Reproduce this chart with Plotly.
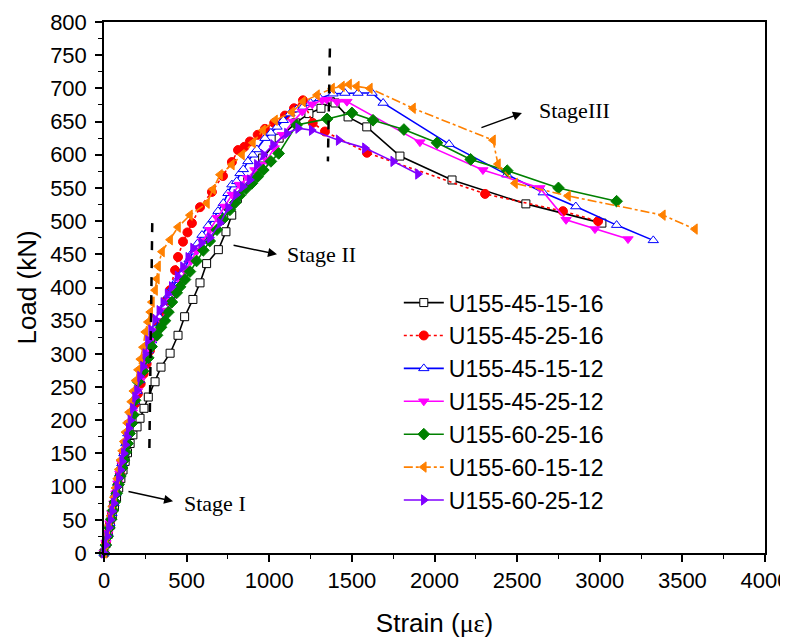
import plotly.graph_objects as go

names = ["U155-45-15-16", "U155-45-25-16", "U155-45-15-12", "U155-45-25-12",
         "U155-60-25-16", "U155-60-15-12", "U155-60-25-12"]

black_x = [0, 12, 25, 38, 50, 63, 76, 89, 102, 115, 128, 142, 158, 175, 200, 218, 242, 268, 309, 345, 400, 448, 488, 538, 581, 621, 692, 738, 773, 807, 870, 960, 1060, 1160, 1240, 1313, 1370, 1398, 1477, 1590, 1791, 2106, 2553, 3013]
black_y = [0, 14, 28, 42, 56, 70, 84, 98, 112, 125, 138, 151, 165, 178, 190, 203, 218, 235, 258, 280, 301, 328, 356, 382, 407, 436, 457, 484, 509, 534, 560, 595, 625, 648, 662, 670, 680, 678, 657, 642, 598, 562, 526, 497]

red_x = [0, 12, 24, 36, 48, 60, 72, 84, 96, 108, 120, 132, 145, 158, 172, 188, 205, 222, 240, 258, 278, 300, 325, 350, 375, 399, 430, 448, 478, 505, 532, 581, 653, 720, 774, 811, 850, 883, 930, 974, 1030, 1095, 1150, 1204, 1263, 1337, 1591, 2306, 2777, 2990]
red_y = [0, 15, 30, 45, 60, 75, 90, 105, 120, 135, 150, 165, 180, 195, 210, 225, 240, 255, 270, 285, 305, 325, 345, 362, 380, 396, 426, 446, 469, 483, 497, 521, 544, 568, 589, 607, 612, 620, 630, 639, 648, 659, 670, 682, 648, 635, 603, 541, 515, 500]

blue_x = [0, 12, 24, 36, 48, 60, 72, 84, 96, 108, 120, 132, 144, 157, 170, 185, 200, 216, 232, 250, 268, 288, 310, 335, 362, 390, 415, 441, 465, 490, 515, 539, 565, 593, 630, 661, 690, 722, 750, 774, 803, 823, 843, 871, 900, 925, 974, 1010, 1047, 1085, 1125, 1165, 1204, 1250, 1307, 1386, 1458, 1537, 1622, 1689, 2088, 2438, 2658, 2855, 3102, 3324]
blue_y = [0, 15, 30, 45, 60, 75, 90, 105, 120, 135, 150, 165, 180, 197, 212, 228, 244, 260, 275, 290, 305, 320, 337, 355, 372, 388, 400, 411, 420, 430, 442, 454, 466, 479, 493, 503, 515, 527, 542, 555, 560, 572, 578, 590, 600, 608, 625, 633, 642, 652, 662, 668, 672, 678, 685, 692, 693, 693, 693, 678, 616, 570, 543, 522, 494, 471]

mag_x = [0, 12, 24, 36, 48, 60, 72, 84, 96, 108, 120, 132, 145, 158, 172, 187, 203, 220, 238, 256, 276, 298, 322, 348, 375, 402, 430, 460, 492, 525, 560, 598, 640, 685, 730, 775, 820, 870, 913, 950, 985, 1030, 1080, 1144, 1200, 1260, 1320, 1349, 1410, 1470, 1912, 2293, 2638, 2796, 2971, 3171]
mag_y = [0, 15, 30, 45, 60, 75, 90, 105, 120, 135, 150, 165, 180, 196, 212, 228, 244, 260, 275, 290, 305, 320, 335, 350, 365, 380, 395, 410, 425, 440, 455, 470, 487, 505, 522, 540, 555, 565, 577, 585, 592, 610, 630, 650, 665, 676, 682, 683, 680, 680, 619, 577, 550, 502, 488, 473]

green_x = [0, 11, 22, 33, 44, 55, 66, 77, 88, 99, 110, 121, 132, 143, 155, 167, 178, 188, 206, 236, 268, 288, 321, 345, 369, 390, 411, 440, 460, 490, 520, 560, 601, 640, 683, 720, 762, 795, 823, 860, 895, 930, 964, 1010, 1057, 1166, 1350, 1500, 1628, 1815, 2015, 2219, 2440, 2750, 3102]
green_y = [0, 12, 25, 38, 51, 64, 77, 90, 103, 116, 128, 140, 152, 165, 180, 195, 208, 230, 258, 274, 294, 311, 328, 340, 350, 363, 378, 392, 401, 412, 424, 440, 456, 470, 487, 503, 517, 528, 539, 549, 557, 567, 577, 590, 602, 645, 654, 663, 652, 638, 618, 593, 576, 550, 530]

orange_x = [0, 10, 20, 30, 40, 50, 60, 70, 80, 90, 100, 110, 120, 130, 140, 152, 165, 178, 192, 206, 220, 236, 250, 266, 280, 290, 309, 320, 327, 351, 400, 448, 520, 623, 660, 702, 774, 835, 901, 962, 1035, 1137, 1204, 1289, 1380, 1440, 1483, 1530, 1609, 1870, 2354, 2384, 2487, 2808, 3382, 3576]
orange_y = [0, 14, 28, 42, 56, 70, 84, 98, 112, 126, 140, 154, 168, 182, 196, 212, 228, 244, 260, 276, 292, 310, 333, 348, 363, 378, 396, 413, 432, 454, 472, 491, 509, 527, 548, 570, 585, 600, 618, 637, 652, 664, 680, 690, 700, 703, 706, 703, 700, 670, 622, 586, 557, 538, 509, 488]

purple_x = [0, 10, 20, 30, 40, 50, 60, 70, 80, 90, 100, 110, 120, 130, 140, 150, 160, 175, 188, 200, 218, 236, 250, 266, 285, 310, 335, 359, 385, 410, 445, 478, 510, 539, 590, 641, 702, 751, 800, 840, 883, 925, 965, 1023, 1107, 1175, 1257, 1420, 1579, 1750, 1900]
purple_y = [0, 12, 25, 38, 50, 63, 75, 88, 100, 113, 125, 138, 150, 163, 175, 188, 200, 218, 235, 245, 266, 281, 300, 320, 336, 352, 365, 377, 390, 401, 417, 431, 445, 459, 467, 475, 497, 520, 540, 552, 562, 585, 600, 615, 632, 640, 637, 622, 610, 590, 571]

xs = [black_x, red_x, blue_x, mag_x, green_x, orange_x, purple_x]
ys = [black_y, red_y, blue_y, mag_y, green_y, orange_y, purple_y]
colors = ["#000000", "#FF0000", "#0000FF", "#FF00FF", "#008000", "#FF8000", "#8000FF"]
dashes = ["solid", "dot", "solid", "solid", "solid", "dashdot", "solid"]
symbols = ["square", "circle", "triangle-up", "triangle-down", "diamond", "triangle-left", "triangle-right"]
fills = ["#FFFFFF", "#FF0000", "#FFFFFF", "#FF00FF", "#008000", "#FF8000", "#8000FF"]
sizes = [8, 9, 9, 9, 9, 9, 9]

fig = go.Figure()
for n, x, y, c, d, s, f, sz in zip(names, xs, ys, colors, dashes, symbols, fills, sizes):
    fig.add_trace(go.Scatter(
        x=x, y=y, name=n, mode="lines+markers", cliponaxis=False,
        line=dict(color=c, width=1.6, dash=d),
        marker=dict(symbol=s, size=sz, color=f, line=dict(color=c, width=1)),
    ))

axis_font = dict(family="Liberation Sans, Arial, sans-serif", size=22, color="#000000")
title_font = dict(family="Liberation Sans, Arial, sans-serif", size=26, color="#000000")

# margins compensate for the page's 8px body offset
fig.update_layout(
    width=788, height=642,
    margin=dict(l=96, r=31, t=14, b=97),
    paper_bgcolor="white", plot_bgcolor="white",
    showlegend=True,
    legend=dict(x=0.446, y=0.512, xanchor="left", yanchor="top",
                bgcolor="rgba(0,0,0,0)", borderwidth=0,
                font=dict(family="Liberation Sans, Arial, sans-serif", size=23, color="#000000"),
                tracegroupgap=0, itemwidth=40),
    xaxis=dict(range=[0, 4000], dtick=500, tick0=0, ticks="outside", ticklen=7, tickwidth=1.5,
               tickcolor="black", showline=True, linecolor="black", linewidth=1.5, mirror=True,
               showgrid=False, zeroline=False, tickfont=axis_font, automargin=False,
               ticklabeloverflow="allow",
               minor=dict(dtick=250, ticks="outside", ticklen=4, tickwidth=1.2, tickcolor="black", showgrid=False),
               title=dict(text="Strain (<span style='font-family:Liberation Serif'>με</span>)", font=title_font, standoff=22)),
    yaxis=dict(range=[0, 800], dtick=50, tick0=0, ticks="outside", ticklen=7, tickwidth=1.5,
               tickcolor="black", showline=True, linecolor="black", linewidth=1.5, mirror=True,
               showgrid=False, zeroline=False, tickfont=axis_font, automargin=False,
               ticklabeloverflow="allow", ticklabelstandoff=4,
               minor=dict(dtick=25, ticks="outside", ticklen=4, tickwidth=1.2, tickcolor="black", showgrid=False),
               title=dict(text="Load (kN)", font=title_font, standoff=6)),
)

# Stage boundary dashed lines
fig.add_shape(type="line", xref="x", yref="y", x0=292, y0=497, x1=274, y1=145,
              line=dict(color="black", width=2.5, dash="dash"))
fig.add_shape(type="line", xref="x", yref="y", x0=1367, y0=760, x1=1355, y1=590,
              line=dict(color="black", width=2.5, dash="dash"))

serif = dict(family="Liberation Serif, Times New Roman, serif", size=22, color="#000000")
# arrows
for (hx, hy, tx, ty) in [(418, 78, 139, 93), (1047, 450, 775, 464), (2529, 663, 2275, 640)]:
    fig.add_annotation(x=hx, y=hy, ax=tx, ay=ty, xref="x", yref="y", axref="x", ayref="y",
                       text="", showarrow=True, arrowhead=2, arrowsize=1.2, arrowwidth=1.5,
                       arrowcolor="black")
fig.add_annotation(x=672, y=75, xref="x", yref="y", text="Stage I", showarrow=False, font=serif)
fig.add_annotation(x=1319, y=449, xref="x", yref="y", text="Stage II", showarrow=False, font=serif)
fig.add_annotation(x=2850, y=667, xref="x", yref="y", text="StageIII", showarrow=False, font=serif)

fig.write_html("out.html")
